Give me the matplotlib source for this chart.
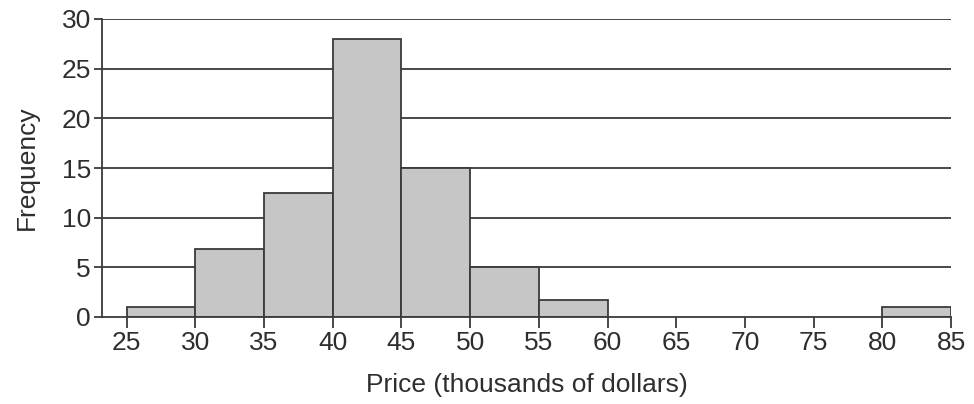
import matplotlib.pyplot as plt
import numpy as np

plt.rcParams['font.family'] = ['Liberation Sans', 'DejaVu Sans']

# bin edges (thousands of dollars) and frequencies
bin_edges = [25, 30, 35, 40, 45, 50, 55, 60, 65, 70, 75, 80, 85]
frequencies = [1, 6.8, 12.5, 28, 15, 5, 1.7, 0, 0, 0, 0, 1]
x_ticks = [25, 30, 35, 40, 45, 50, 55, 60, 65, 70, 75, 80, 85]
y_ticks = [0, 5, 10, 15, 20, 25, 30]

line_col = '#3a3a3a'
text_col = '#2e2e2e'

fig = plt.figure(figsize=(9.74, 4.04), dpi=100)
ax = fig.add_axes([102/974, 1 - 317/404, (951 - 102)/974, (317 - 19)/404])

for y in y_ticks[1:]:
    ax.axhline(y, color=line_col, lw=1.3, zorder=1)

lefts = np.array(bin_edges[:-1])
widths = np.diff(bin_edges)
heights = np.array(frequencies)
mask = heights > 0
ax.bar(lefts[mask], heights[mask], width=widths[mask], align='edge',
       color='#c6c6c6', edgecolor=line_col, linewidth=1.3, zorder=2)

ax.set_xlim(23.2, 85)
ax.set_ylim(0, 30)
ax.set_xticks(x_ticks)
ax.set_yticks(y_ticks)

for s in ['top', 'right']:
    ax.spines[s].set_visible(False)
for s in ['left', 'bottom']:
    ax.spines[s].set_color(line_col)
    ax.spines[s].set_linewidth(1.3)
    ax.spines[s].set_zorder(3)

ax.tick_params(axis='both', colors=line_col, width=1.3,
               labelsize=19, labelcolor=text_col)
ax.tick_params(axis='x', length=8, pad=2)
ax.tick_params(axis='y', length=6, pad=2)

ax.set_xlabel('Price (thousands of dollars)', fontsize=19, color=text_col, labelpad=13)
ax.set_ylabel('Frequency', fontsize=19, color=text_col, labelpad=16)

plt.savefig('out.png', dpi=100)
plt.close(fig)
